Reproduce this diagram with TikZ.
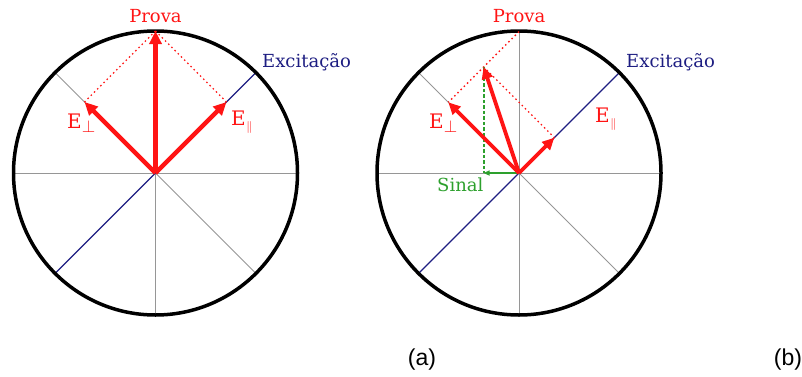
\documentclass[tikz,border=0pt]{standalone}
\usepackage{fontspec}
\setmainfont{DejaVu Serif}
\newfontfamily\labfont{Liberation Sans}
\usetikzlibrary{arrows.meta,calc}
\definecolor{myred}{RGB}{255,20,20}
\definecolor{mynavy}{RGB}{30,30,130}
\definecolor{mygreen}{RGB}{45,160,45}
\definecolor{mygray}{RGB}{150,150,150}
\newcommand{\Eperp}{E\raisebox{-4.5pt}{\fontsize{17}{17}\selectfont$\perp$}}
\newcommand{\Epar}{E\raisebox{-5pt}{\fontsize{12.5}{12.5}\selectfont$\mkern1mu\parallel$}}
\begin{document}
\begin{tikzpicture}[x=1pt,y=1pt,
  ring/.style={draw=black,line width=3.5pt},
  guide/.style={draw=mygray,line width=0.9pt},
  excit/.style={draw=mynavy,line width=1.1pt},
  vec/.style={draw=myred,line width=4.4pt,-{Triangle[length=13pt,width=12pt]}},
  vecb/.style={draw=myred,line width=3.8pt,-{Triangle[length=12pt,width=11pt]}},
  proj/.style={draw=myred,line width=1.3pt,dash pattern=on 1.5pt off 3pt},
  sigdash/.style={draw=mygreen,line width=1.8pt,dash pattern=on 3.5pt off 2pt},
  sig/.style={draw=mygreen,line width=1.8pt,-{Triangle[length=6pt,width=5pt]}},
  lab/.style={font=\fontsize{18}{20}\selectfont,inner sep=0pt},
  elab/.style={font=\fontsize{20}{22}\selectfont,inner sep=0pt,text=myred,anchor=base west},
  captxt/.style={font=\labfont\fontsize{23}{25}\selectfont,inner sep=0pt,anchor=base}
]
\useasboundingbox (0,0) rectangle (802,376);
% ---------- panel (a)
\coordinate (Ca) at (155.5,203);
\draw[guide] ($(Ca)+(180:141)$) -- ($(Ca)+(0:141)$);
\draw[guide] (Ca) -- ($(Ca)+(270:141)$);
\draw[guide] ($(Ca)+(135:141)$) -- ($(Ca)+(315:141)$);
\draw[excit] ($(Ca)+(225:141)$) -- ($(Ca)+(45:141)$);
\draw[ring] (Ca) circle[radius=142];
\coordinate (Pa) at ($(Ca)+(90:142)$);
\coordinate (Ua) at ($(Ca)+(135:100.4)$);
\coordinate (Va) at ($(Ca)+(45:100.4)$);
\draw[proj] (Pa) -- (Ua);
\draw[proj] (Pa) -- (Va);
\draw[vec] (Ca) -- (Pa);
\draw[vec] (Ca) -- (Ua);
\draw[vec] (Ca) -- (Va);
\node[lab,text=myred,anchor=base] (provaA) at (155.5,354) {Prova};
\node[lab,text=mynavy,anchor=base west] (excA) at (262,309) {Excitação};
\node[elab] (eperpA) at (67,248) {\Eperp};
\node[elab] (eparA) at (231,251) {\Epar};
% ---------- panel (b)
\coordinate (Cb) at (519,203);
\draw[guide] ($(Cb)+(180:141)$) -- ($(Cb)+(0:141)$);
\draw[guide] ($(Cb)+(90:141)$) -- ($(Cb)+(270:141)$);
\draw[guide] ($(Cb)+(135:141)$) -- ($(Cb)+(315:141)$);
\draw[excit] ($(Cb)+(225:141)$) -- ($(Cb)+(45:141)$);
\draw[ring] (Cb) circle[radius=142];
\coordinate (Tb) at ($(Cb)+(90:141.4)$);
\coordinate (Ub) at ($(Cb)+(135:100)$);
\coordinate (Vb) at ($(Cb)+(45:50)$);
\coordinate (Pb) at ($(Cb)+(-35.4,106.1)$);
\coordinate (Sb) at (Pb |- Cb);
\draw[proj] (Tb) -- (Ub);
\draw[proj] (Pb) -- (Vb);
\draw[sigdash] (Pb) -- (Sb);
\draw[sig] (Cb) -- (Sb);
\draw[vecb] (Cb) -- (Ub);
\draw[vecb] (Cb) -- (Pb);
\draw[vecb] (Cb) -- (Vb);
\node[lab,text=myred,anchor=base] (provaB) at (519,354) {Prova};
\node[lab,text=mynavy,anchor=base west] (excB) at (626,309) {Excitação};
\node[elab] (eperpB) at (429,248) {\Eperp};
\node[elab] (eparB) at (595,254) {\Epar};
\node[lab,text=mygreen,anchor=base west] (sinal) at (437,185) {Sinal};
% ---------- captions
\node[captxt] (capA) at (422,11) {(a)};
\node[captxt] (capB) at (788,11) {(b)};
\end{tikzpicture}
\end{document}
